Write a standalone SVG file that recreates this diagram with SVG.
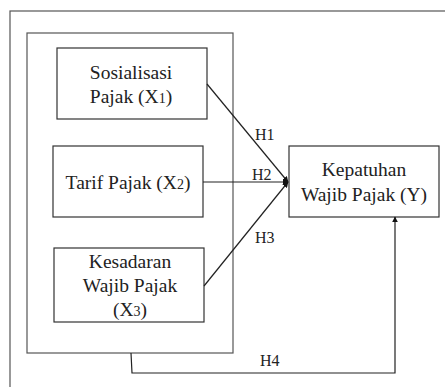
<svg xmlns="http://www.w3.org/2000/svg" width="445" height="387" viewBox="0 0 445 387">
<defs>
<style>
.box{fill:#fff;stroke:#333;stroke-width:1.2}
.frame{fill:none;stroke:#555;stroke-width:1.2}
.t{font-family:'Liberation Serif','Times New Roman','DejaVu Serif',serif;font-size:19.5px;fill:#222;text-anchor:middle}
.lbl{font-family:'Liberation Serif','Times New Roman','DejaVu Serif',serif;font-size:16px;fill:#222}
.sub{font-size:14px}
.c{fill:none;stroke:#222;stroke-width:1.2}
</style>
<marker id="ah" viewBox="0 0 10 10" refX="9" refY="5" markerWidth="6" markerHeight="6" orient="auto" markerUnits="userSpaceOnUse">
<path d="M0,0 L10,5 L0,10 z" fill="#111"/>
</marker>
</defs>
<rect width="445" height="387" fill="#fff"/>
<g id="outer-frame"><rect class="frame" x="10" y="11" width="500" height="420"/></g>
<g id="group-x"><rect class="frame" x="27" y="33" width="206" height="320" stroke="#444"/></g>
<g id="x1">
<rect class="box" x="57" y="48" width="150" height="71"/>
<text class="t" x="131" y="79">Sosialisasi</text>
<text class="t" x="131" y="103">Pajak (X<tspan class="sub">1</tspan>)</text>
</g>
<g id="x2">
<rect class="box" x="53" y="146" width="150" height="71"/>
<text class="t" x="128" y="189">Tarif Pajak (X<tspan class="sub">2</tspan>)</text>
</g>
<g id="x3">
<rect class="box" x="54" y="248" width="150" height="74"/>
<text class="t" x="130" y="268">Kesadaran</text>
<text class="t" x="130" y="292">Wajib Pajak</text>
<text class="t" x="130" y="316">(X<tspan class="sub">3</tspan>)</text>
</g>
<g id="y">
<rect class="box" x="289" y="146" width="150" height="71"/>
<text class="t" x="364" y="176">Kepatuhan</text>
<text class="t" x="364" y="201">Wajib Pajak (Y)</text>
</g>
<g id="connectors">
<line class="c" x1="207" y1="84" x2="288" y2="182" marker-end="url(#ah)"/>
<line class="c" x1="203" y1="182" x2="288" y2="182" marker-end="url(#ah)"/>
<line class="c" x1="204" y1="286" x2="288" y2="182" marker-end="url(#ah)"/>
<polyline class="c" points="131,353 132,373 395,373 395,217" marker-end="url(#ah)"/>
<text class="lbl" x="255" y="140">H1</text>
<text class="lbl" x="252" y="180">H2</text>
<text class="lbl" x="255" y="243">H3</text>
<text class="lbl" x="260" y="366">H4</text>
</g>
</svg>
